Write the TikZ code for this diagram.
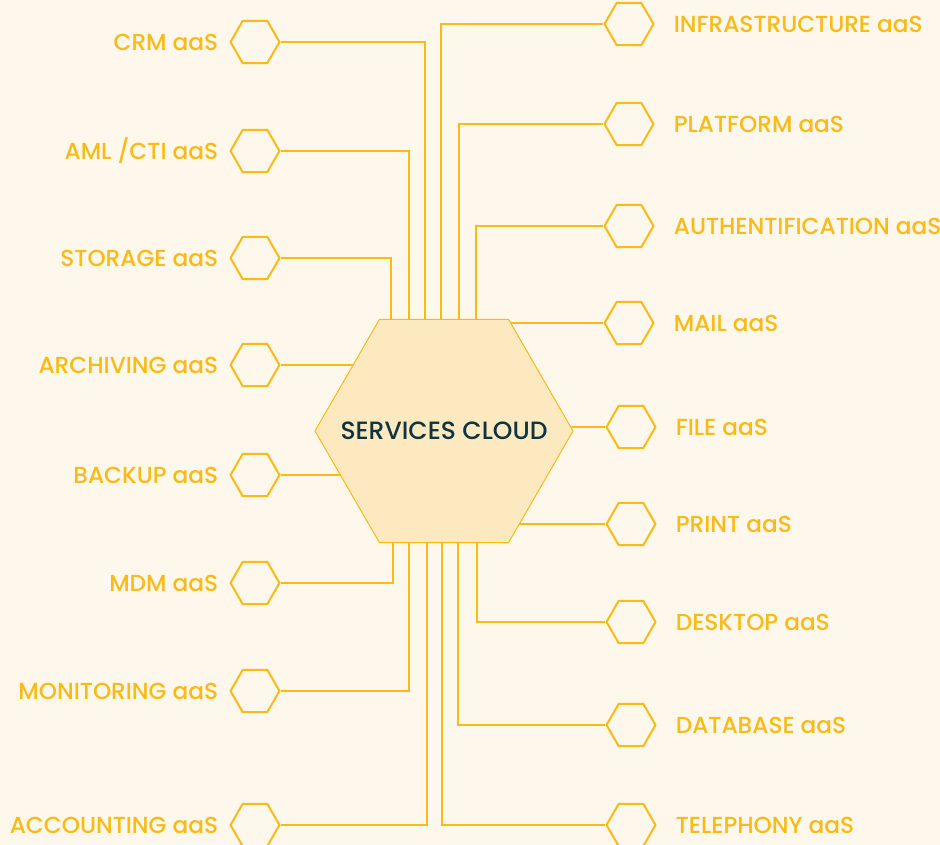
\documentclass[tikz,border=0pt]{standalone}
\usepackage{fontspec}
\setmainfont{Poppins Medium}
\usetikzlibrary{shapes.geometric,backgrounds}
\definecolor{gold}{HTML}{FBBA16}
\definecolor{cream}{HTML}{FEF7EB}
\definecolor{sand}{HTML}{FDE9BF}
\definecolor{ink}{HTML}{0F3441}

\begin{document}
\begin{tikzpicture}[x=1pt, y=-1pt, line join=round,
  hex/.style={regular polygon, regular polygon sides=6, minimum size=49pt,
    inner sep=0pt, draw=gold, line width=2pt},
  lab/.style={text=gold, inner sep=0pt, font=\fontsize{23.2}{23.2}\selectfont},
  wire/.style={draw=gold, line width=1.8pt}]
  \useasboundingbox (0,0) rectangle (940,845);

  % central hexagon
  \node[regular polygon, regular polygon sides=6, minimum size=258pt, inner sep=0pt,
    draw=gold, fill=sand, line width=1pt] (cloud) at (444,431) {};
  \node[text=ink, inner sep=0pt, font=\fontsize{25}{25}\selectfont] (cloud-t)
    at (cloud.center) {SERVICES CLOUD};

  % services on the left
  \foreach \nm/\y/\txt in {crm/42/CRM aaS, aml/151/{AML /CTI aaS}, storage/258/STORAGE aaS,
      archiving/365/ARCHIVING aaS, backup/475/BACKUP aaS, mdm/583/MDM aaS,
      monitoring/691/MONITORING aaS, accounting/825/ACCOUNTING aaS} {
    \node[hex] (\nm) at (255,\y) {};
    \node[lab, anchor=east] (\nm-t) at ([xshift=-11pt]\nm.west) {\txt};
  }

  % services on the right
  \foreach \nm/\x/\y/\txt in {infra/629/24/INFRASTRUCTURE aaS, platform/629/124/PLATFORM aaS,
      auth/629/226/AUTHENTIFICATION aaS, mail/629/323/MAIL aaS, file/631/427/FILE aaS,
      print/631/524/PRINT aaS, desktop/631/622/DESKTOP aaS, database/631/725/DATABASE aaS,
      telephony/631/825/TELEPHONY aaS} {
    \node[hex] (\nm) at (\x,\y) {};
    \node[lab, anchor=west] (\nm-t) at ([xshift=19pt]\nm.east) {\txt};
  }

  \begin{scope}[on background layer]
    \fill[cream] (0,0) rectangle (940,845);
    % top connectors
    \draw[wire] (crm.east) -| ([xshift=-19pt]cloud.north);
    \draw[wire] (aml.east) -| ([xshift=-35pt]cloud.north);
    \draw[wire] (storage.east) -| ([xshift=-53pt]cloud.north);
    \draw[wire] (infra.west) -| ([xshift=-3pt]cloud.north);
    \draw[wire] (platform.west) -| ([xshift=15pt]cloud.north);
    \draw[wire] (auth.west) -| ([xshift=32pt]cloud.north);
    % straight connectors
    \draw[wire] (archiving.east) -- (archiving.east -| cloud.center);
    \draw[wire] (backup.east) -- (backup.east -| cloud.center);
    \draw[wire] (mail.west) -- (mail.west -| cloud.center);
    \draw[wire] (file.west) -- (file.west -| cloud.center);
    \draw[wire] (print.west) -- (print.west -| cloud.center);
    % bottom connectors
    \draw[wire] (mdm.east) -| ([xshift=-51pt]cloud.south);
    \draw[wire] (monitoring.east) -| ([xshift=-35pt]cloud.south);
    \draw[wire] (accounting.east) -| ([xshift=-17pt]cloud.south);
    \draw[wire] (desktop.west) -| ([xshift=33pt]cloud.south);
    \draw[wire] (database.west) -| ([xshift=14pt]cloud.south);
    \draw[wire] (telephony.west) -| ([xshift=-2pt]cloud.south);
  \end{scope}
\end{tikzpicture}
\end{document}
